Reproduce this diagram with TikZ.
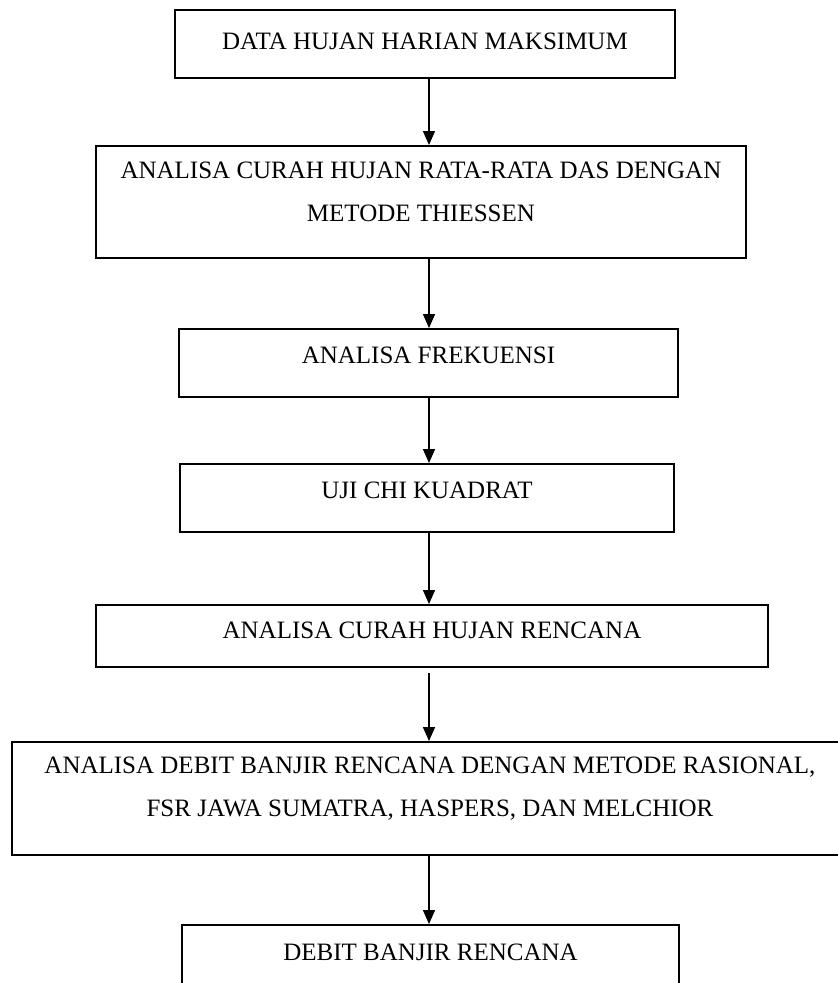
\documentclass[tikz,border=0pt]{standalone}
\usepackage{fontspec}
\setmainfont{Liberation Serif}
\usetikzlibrary{arrows.meta}
\tikzset{
  flowbox/.style={draw=black, line width=2pt, inner sep=0pt, fill=none},
  boxtext/.style={font=\fontsize{25}{43}\selectfont, align=center, inner sep=0pt},
  onetext/.style={boxtext, text height=16.5pt, text depth=0pt},
  flowarrow/.style={draw=black, line width=1.5pt, -{Triangle[width=12pt,length=14pt]}}
}
\begin{document}
\begin{tikzpicture}[x=1pt, y=-1pt]
\useasboundingbox (0,0) rectangle (838,983);
\coordinate (ax) at (429,0);
% boxes
\node[flowbox, minimum width=500pt, minimum height=68pt] (b1) at (425,44) {};
\node[flowbox, minimum width=650pt, minimum height=112pt] (b2) at (421,202) {};
\node[flowbox, minimum width=499pt, minimum height=68pt] (b3) at (428.5,363) {};
\node[flowbox, minimum width=494pt, minimum height=68pt] (b4) at (427,498) {};
\node[flowbox, minimum width=672pt, minimum height=62pt] (b5) at (432,636) {};
\node[flowbox, minimum width=836pt, minimum height=113pt] (b6) at (430,798.5) {};
\node[flowbox, minimum width=497pt, minimum height=75pt] (b7) at (430.5,962.5) {};
% texts
\node[onetext] (t1) at (425,41) {DATA HUJAN HARIAN MAKSIMUM};
\node[boxtext] (t2) at (421,191.5) {ANALISA CURAH HUJAN RATA-RATA DAS DENGAN\\METODE THIESSEN};
\node[onetext] (t3) at (428.5,355) {ANALISA FREKUENSI};
\node[onetext] (t4) at (427,490) {UJI CHI KUADRAT};
\node[onetext] (t5) at (432,630) {ANALISA CURAH HUJAN RENCANA};
\node[boxtext] (t6) at (430,788.5) {ANALISA DEBIT BANJIR RENCANA DENGAN METODE RASIONAL,\\FSR JAWA SUMATRA, HASPERS, DAN MELCHIOR};
\node[onetext] (t7) at (430.5,952) {DEBIT BANJIR RENCANA};
% arrows
\draw[flowarrow] (b1.south -| ax) -- (b2.north -| ax);
\draw[flowarrow] (b2.south -| ax) -- (b3.north -| ax);
\draw[flowarrow] (b3.south -| ax) -- (b4.north -| ax);
\draw[flowarrow] (b4.south -| ax) -- (b5.north -| ax);
\draw[flowarrow, shorten <=5pt] (b5.south -| ax) -- (b6.north -| ax);
\draw[flowarrow] (b6.south -| ax) -- (b7.north -| ax);
\end{tikzpicture}
\end{document}
